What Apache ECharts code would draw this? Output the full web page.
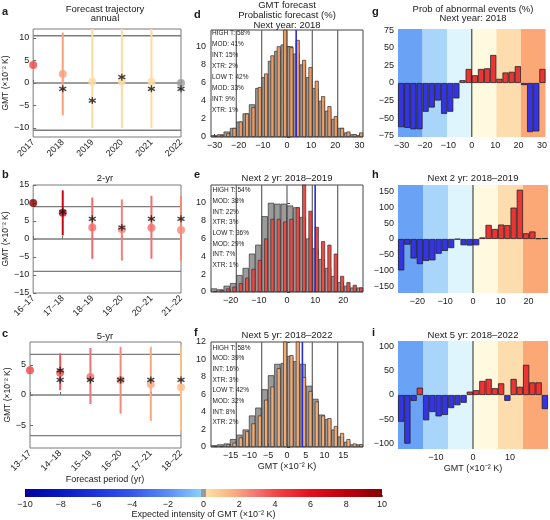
<!DOCTYPE html>
<html><head><meta charset="utf-8">
<script src="https://cdn.jsdelivr.net/npm/echarts@6/dist/echarts.min.js"></script>
<style>html,body{margin:0;padding:0;background:#fff}#c{width:550px;height:520px}</style>
</head><body><div id="c"></div>
<script>
// ================= DATA =================
// Panel a: annual forecast trajectory
const annualPeriods = ['2017','2018','2019','2020','2021','2022'];
const annualIntensity = [4.0, 2.0, 0.3, 0.3, 0.3, 0.0];
const annualLow  = [null, -7.2, -10.0, -10.0, -10.0, null];
const annualHigh = [null, 11.2, 12.0, 12.0, 12.0, null];
const annualObs  = [null, -1.3, -3.9, 1.3, -1.3, -1.3];
const annualObs2 = [null, null, null, null, null, null];
const annualLimit = 10.5;

// Panel b: 2-yr
const twoYrPeriods = ['16–17','17–18','18–19','19–20','20–21','21–22'];
const twoYrIntensity = [10.0, 7.3, 3.2, 2.7, 3.1, 2.5];
const twoYrLow  = [null, 1.0, -5.5, -6.0, -5.5, -6.0];
const twoYrHigh = [null, 13.5, 11.5, 11.0, 12.0, 12.0];
const twoYrObs  = [null, 7.5, 5.6, 3.2, 5.6, 5.6];
const twoYrObs2 = [null, null, null, null, null, null];
const twoYrLimit = 9;

// Panel c: 5-yr
const fiveYrPeriods = ['13–17','14–18','15–19','16–20','17–21','18–22'];
const fiveYrIntensity = [4.1, 3.7, 3.0, 2.5, 1.8, 1.3];
const fiveYrLow  = [null, 0.8, -1.5, -3.1, -4.3, -6.0];
const fiveYrHigh = [null, 6.9, 7.8, 8.0, 8.0, 8.0];
const fiveYrObs  = [null, 2.5, 2.5, 2.5, 2.5, 2.5];
const fiveYrObs2 = [null, 4.1, null, null, null, null];
const fiveYrLimit = 6.75;

// Panels d/e/f: histograms (24 bins over +-3*limit), climatology (grey) vs forecast
const nextYearClim = [0.2,0.3,0.6,1.0,1.7,2.6,3.6,5.4,6.6,8.4,9.5,10.2,10.0,9.2,8.0,6.6,5.4,4.0,2.9,2.0,1.0,0.5,0.3,0.2];
const nextYearFcst = [0.1,0.2,0.4,1.0,1.7,2.6,3.3,5.5,7.0,9.0,10.0,12.5,9.9,10.7,8.5,7.7,6.2,4.5,3.4,2.3,1.0,0.6,0.3,0.5];
const next2Clim = [0.4,0.3,0.7,1.0,1.9,2.7,4.3,5.3,8.5,10.0,9.9,9.9,9.7,9.5,8.4,6.0,4.9,3.7,2.7,1.8,1.1,0.7,0.5,0.5];
const next2Fcst = [0.1,0.2,0.4,0.6,1.0,1.6,2.6,3.6,6.0,8.2,8.2,7.9,8.2,9.5,12.5,9.1,7.3,5.7,5.3,4.3,1.8,1.1,0.8,0.5];
const next5Clim = [0.2,0.3,0.4,0.9,1.4,2.0,3.6,4.5,6.6,8.2,9.5,9.6,10.4,9.8,9.5,7.0,5.5,3.7,3.2,2.0,1.2,0.6,0.3,0.3];
const next5Fcst = [0.1,0.1,0.3,0.5,1.1,1.8,2.7,3.6,5.4,6.9,9.0,12.5,10.5,12.5,8.0,6.4,5.2,3.6,3.3,2.4,1.6,0.9,0.4,0.3];
const nextYearObs = 3.8, next2Obs = 10.0, next5Obs = 4.1;
const nextYearStats = ['HIGH T: 58%','MOD: 41%','INT: 15%','XTR: 2%','LOW T: 42%','MOD: 33%','INT: 9%','XTR: 1%'];
const next2Stats    = ['HIGH T: 54%','MOD: 38%','INT: 22%','XTR: 3%','LOW T: 36%','MOD: 29%','INT: 7%','XTR: 1%'];
const next5Stats    = ['HIGH T: 58%','MOD: 39%','INT: 16%','XTR: 3%','LOW T: 42%','MOD: 32%','INT: 8%','XTR: 2%'];

// Panels g/h/i: probability of abnormal events (%)
const nextYearAbn = [-63,-64,-66,-66,-41,-35,-25,-44,-41,-22,4,20,11,20,21,40,6,15,16,24,-3,-70,-69,20];
const next2Abn    = [-100,-18,-62,-80,-70,-68,-47,-38,-29,-1,-20,-21,-20,5,45,32,46,44,100,157,18,24,2,3];
const next5Abn    = [-55,-100,-12,15,-52,-35,-44,-41,-27,-21,-16,7,10,29,33,14,24,-12,33,17,62,26,26,-29];

// Tick labels
const trajTicksA = [-10,-5,0,5,10];
const trajTicksB = [-15,-10,-5,0,5,10,15];
const trajTicksC = [-5,0,5];
const histXTicksD = [-30,-20,-10,0,10,20,30];
const histXTicksE = [-20,-10,0,10,20];
const histXTicksF = [-15,-10,-5,0,5,10,15];
const histYTicksDE = [0,2,4,6,8,10];
const histYTicksF = [0,2,4,6,8,10,12];
const abnXTicksG = [-30,-20,-10,0,10,20,30];
const abnXTicksH = [-20,-10,0,10,20];
const abnXTicksI = [-10,0,10];
const abnYTicksG = [-75,-50,-25,0,25,50,75];
const abnYTicksH = [-150,-100,-50,0,50,100,150];
const abnYTicksI = [-100,-50,0,50,100];
const cbTicks = [-10,-8,-6,-4,-2,0,2,4,6,8,10];

// ================= STYLE / HELPERS =================
const FONT = '"Liberation Sans", Arial, sans-serif';
const TXT = '#222';
const cmapStops = [[-10,'#00009a'],[-8,'#0a18c0'],[-6,'#1e34dc'],[-4,'#3656e8'],[-2,'#5a8cf2'],[-0.12,'#8ad0fc'],
  [-0.12,'#9a9a9a'],[0.12,'#9a9a9a'],[0.12,'#fde0a6'],[1.3,'#fbbc86'],[2,'#f8a07e'],[3,'#f47272'],[4,'#ef4848'],
  [5,'#ea2c34'],[6,'#e2101c'],[8,'#bc000e'],[10,'#860000']];
function hex2rgb(h){return [1,3,5].map(i=>parseInt(h.substr(i,2),16));}
function cmap(v){
  for(let k=0;k<cmapStops.length-1;k++){
    const [v0,c0]=cmapStops[k],[v1,c1]=cmapStops[k+1];
    if(v1>v0 && v>=v0 && v<=v1){
      const t=(v-v0)/(v1-v0), a=hex2rgb(c0), b=hex2rgb(c1);
      return 'rgb('+a.map((x,i)=>Math.round(x+(b[i]-x)*t)).join(',')+')';
    }
  }
  return v<0?cmapStops[0][1]:cmapStops[cmapStops.length-1][1];
}
const fmt = v => (v<0?'\u2212':'') + Math.abs(Math.round(v*100)/100);
const ASTER = 'path://M5,0L5,10M0.67,2.5L9.33,7.5M0.67,7.5L9.33,2.5';

const grids = [
  {left:30, top:29, width:151, height:108, show:true, borderColor:'#7a7a7a', borderWidth:1},
  {left:30, top:185, width:151, height:108, show:true, borderColor:'#7a7a7a', borderWidth:1},
  {left:30, top:342, width:151, height:106, show:true, borderColor:'#7a7a7a', borderWidth:1},
  {left:211, top:30, width:152, height:107, show:true, borderColor:'#444', borderWidth:1},
  {left:211, top:185, width:152, height:107, show:true, borderColor:'#444', borderWidth:1},
  {left:211, top:342, width:152, height:105, show:true, borderColor:'#444', borderWidth:1},
  {left:398, top:29, width:150, height:108},
  {left:398, top:185, width:150, height:108},
  {left:398, top:341, width:150, height:108},
  {left:25, top:489, width:357, height:8}
];
const xAxes=[], yAxes=[], series=[], graphics=[], titles=[];
const addX=o=>{xAxes.push(o);return xAxes.length-1;};
const addY=o=>{yAxes.push(o);return yAxes.length-1;};
const lbl = (extra)=>Object.assign({fontSize:9,color:TXT,fontFamily:FONT},extra||{});

const hline=(color,w)=>(params,api)=>{const cs=params.coordSys;const y=api.coord([0,api.value(1)])[1];
  return {type:'line',shape:{x1:cs.x,y1:y,x2:cs.x+cs.width,y2:y},style:{stroke:color,lineWidth:w}};};
const vline=(color,w)=>(params,api)=>{const cs=params.coordSys;const x=api.coord([api.value(0),0])[0];
  return {type:'line',shape:{x1:x,y1:cs.y,x2:x,y2:cs.y+cs.height},style:{stroke:color,lineWidth:w}};};

function trajPanel(g,cats,intens,lo,hi,obs,obs2,limit,yMax,yTicks){
  const xi=addX({type:'category',gridIndex:g,data:cats,boundaryGap:false,axisLine:{show:false},splitLine:{show:false},
    axisTick:{show:true,inside:true,length:3,lineStyle:{color:'#666'}},
    axisLabel:lbl({rotate:45,margin:4,interval:0})});
  const yi=addY({type:'value',gridIndex:g,min:-yMax,max:yMax,axisLine:{show:false},splitLine:{show:false},
    axisTick:{show:true,inside:true,length:3,customValues:yTicks,lineStyle:{color:'#666'}},
    axisLabel:lbl({customValues:yTicks,formatter:fmt,margin:4}),
    name:'GMT (\u00d710\u207b\u00b2 K)',nameLocation:'middle',nameGap:16,nameTextStyle:{fontSize:8.5,color:TXT,fontFamily:FONT}});
  series.push({type:'custom',xAxisIndex:xi,yAxisIndex:yi,z:1,silent:true,
    data:[[0,limit],[0,0],[0,-limit]],renderItem:hline('#7c7c7c',1.4)});
  const eb=[];lo.forEach((l,i)=>{if(l!=null)eb.push({value:[i,l,hi[i]],itemStyle:{color:cmap(intens[i])}});});
  series.push({type:'custom',xAxisIndex:xi,yAxisIndex:yi,z:2,silent:true,clip:false,data:eb,
    renderItem:(params,api)=>{const a=api.coord([api.value(0),api.value(1)]),b=api.coord([api.value(0),api.value(2)]);
      return {type:'line',shape:{x1:a[0],y1:a[1],x2:b[0],y2:b[1]},style:{stroke:api.visual('color'),lineWidth:2}};}});
  series.push({type:'scatter',xAxisIndex:xi,yAxisIndex:yi,z:3,silent:true,clip:false,symbol:'circle',symbolSize:8,
    data:intens.map((v,i)=>({value:[i,v],itemStyle:{color:cmap(v)}}))});
  const st=[];obs.forEach((v,i)=>{if(v!=null)st.push([i,v]);});obs2.forEach((v,i)=>{if(v!=null)st.push([i,v]);});
  series.push({type:'scatter',xAxisIndex:xi,yAxisIndex:yi,z:4,silent:true,clip:false,symbol:ASTER,symbolSize:7,
    itemStyle:{color:'#111',borderColor:'#111',borderWidth:1.3},data:st});
}

function histPanel(g,limit,xTicks,yTicks,yMax,clim,fcst,fcstColor,obs,xName){
  const R=3*limit;
  const xc=addX({type:'category',gridIndex:g,data:clim.map((_,k)=>String(k)),show:false,position:'top',boundaryGap:true});
  const xv=addX({type:'value',gridIndex:g,min:-R,max:R,position:'bottom',axisLine:{show:false},splitLine:{show:false},
    axisTick:{show:true,inside:true,length:3,customValues:xTicks,lineStyle:{color:'#444'}},
    axisLabel:lbl({customValues:xTicks,formatter:fmt,margin:4}),
    name:xName||'',nameLocation:'middle',nameGap:15,nameTextStyle:{fontSize:9,color:TXT,fontFamily:FONT}});
  const yi=addY({type:'value',gridIndex:g,min:0,max:yMax,axisLine:{show:false},splitLine:{show:false},
    axisTick:{show:true,inside:true,length:3,customValues:yTicks,lineStyle:{color:'#444'}},
    axisLabel:lbl({customValues:yTicks,formatter:fmt,margin:5})});
  series.push({type:'custom',xAxisIndex:xv,yAxisIndex:yi,z:1,silent:true,
    data:[[-2*limit,0],[-limit,0],[0,0],[limit,0],[2*limit,0]],renderItem:vline('#6e6e6e',1.3)});
  series.push({type:'bar',xAxisIndex:xc,yAxisIndex:yi,z:2,silent:true,data:clim,barWidth:6.3,barGap:'-60%',
    itemStyle:{color:'#9b9b9b',borderColor:'#333',borderWidth:0.7}});
  series.push({type:'bar',xAxisIndex:xc,yAxisIndex:yi,z:2,silent:true,data:fcst,barWidth:4.0,barGap:'-60%',
    itemStyle:{color:fcstColor,borderColor:'#333',borderWidth:0.7}});
  series.push({type:'custom',xAxisIndex:xv,yAxisIndex:yi,z:5,silent:true,data:[[obs,0]],renderItem:vline('#2a2ad6',1.6)});
}

const bandColors=['#6aa2f6','#a9d5fb','#def5fd','#fffadf','#fddcae','#fba776'];
function abnPanel(g,limit,xTicks,yTicks,yMax,vals,xName){
  const R=3*limit;
  const xc=addX({type:'category',gridIndex:g,data:vals.map((_,k)=>String(k)),show:false,position:'top',boundaryGap:true});
  const xv=addX({type:'value',gridIndex:g,min:-R,max:R,position:'bottom',axisLine:{show:false},splitLine:{show:false},
    axisTick:{show:false},axisLabel:lbl({customValues:xTicks,formatter:fmt,margin:4}),
    name:xName||'',nameLocation:'middle',nameGap:15,nameTextStyle:{fontSize:9,color:TXT,fontFamily:FONT}});
  const yi=addY({type:'value',gridIndex:g,min:-yMax,max:yMax,axisLine:{show:false},splitLine:{show:false},
    axisTick:{show:false},axisLabel:lbl({customValues:yTicks,formatter:fmt,margin:4})});
  const edges=[-R,-2*limit,-limit,0,limit,2*limit,R];
  series.push({type:'custom',xAxisIndex:xv,yAxisIndex:yi,z:0,silent:true,
    data:bandColors.map((c,k)=>[edges[k],edges[k+1],k]),
    renderItem:(params,api)=>{const cs=params.coordSys;const x0=api.coord([api.value(0),0])[0],x1=api.coord([api.value(1),0])[0];
      return {type:'rect',shape:{x:x0,y:cs.y,width:x1-x0,height:cs.height},style:{fill:bandColors[api.value(2)]}};}});
  series.push({type:'custom',xAxisIndex:xv,yAxisIndex:yi,z:1,silent:true,data:[[0,0]],renderItem:vline('#4a4a4a',1.2)});
  series.push({type:'bar',xAxisIndex:xc,yAxisIndex:yi,z:2,silent:true,data:vals,barWidth:'100%',barCategoryGap:'0%',
    itemStyle:{color:p=>p.value>=0?'#ec3434':'#3434e4',borderColor:'#222',borderWidth:0.8}});
}

function statsText(lines,x,y0,step){
  lines.forEach((t,k)=>graphics.push({type:'text',x:x,y:y0+k*step-4,z:50,silent:true,
    style:{text:t,fill:'#222',font:'6.5px '+FONT}}));
}
// titles via the title component (text top-anchored)
function title(t,x,yc,size,bold,align,lh){
  const lines=t.split('\n').length;
  const L=lh||size*1.15;
  titles.push({text:t,left:x,top:Math.max(0,yc-L/2),textAlign:align||'center',padding:0,itemGap:0,
    textStyle:{fontSize:size,lineHeight:L,fontWeight:bold?'bold':'normal',color:'#1a1a1a',fontFamily:FONT}});
}

// ================= BUILD =================
trajPanel(0,annualPeriods,annualIntensity,annualLow,annualHigh,annualObs,annualObs2,annualLimit,12,trajTicksA);
trajPanel(1,twoYrPeriods,twoYrIntensity,twoYrLow,twoYrHigh,twoYrObs,twoYrObs2,twoYrLimit,15,trajTicksB);
trajPanel(2,fiveYrPeriods,fiveYrIntensity,fiveYrLow,fiveYrHigh,fiveYrObs,fiveYrObs2,fiveYrLimit,8.8,trajTicksC);

histPanel(3,annualLimit,histXTicksD,histYTicksDE,11.8,nextYearClim,nextYearFcst,'#f19a5e',nextYearObs);
histPanel(4,twoYrLimit,histXTicksE,histYTicksDE,12,next2Clim,next2Fcst,'#ec4a45',next2Obs);
histPanel(5,fiveYrLimit,histXTicksF,histYTicksF,12,next5Clim,next5Fcst,'#f5aa70',next5Obs,'GMT (\u00d710\u207b\u00b2 K)');

abnPanel(6,annualLimit,abnXTicksG,abnYTicksG,77,nextYearAbn);
abnPanel(7,twoYrLimit,abnXTicksH,abnYTicksH,172,next2Abn);
abnPanel(8,fiveYrLimit,abnXTicksI,abnYTicksI,111,next5Abn,'GMT (\u00d710\u207b\u00b2 K)');

// colorbar
const cbx=addX({type:'value',gridIndex:9,min:-10,max:10,axisLine:{show:false},splitLine:{show:false},
  axisTick:{show:true,inside:true,length:2,customValues:cbTicks,lineStyle:{color:'#777'}},
  axisLabel:lbl({customValues:cbTicks,formatter:fmt,margin:3}),
  name:'Expected intensity of GMT (\u00d710\u207b\u00b2 K)',nameLocation:'middle',nameGap:13,nameTextStyle:{fontSize:9,color:TXT,fontFamily:FONT}});
const cby=addY({type:'value',gridIndex:9,min:0,max:1,show:false});
series.push({type:'custom',xAxisIndex:cbx,yAxisIndex:cby,z:1,silent:true,data:[[-10,10]],
  renderItem:(params,api)=>{const cs=params.coordSys;const x0=api.coord([api.value(0),0])[0],x1=api.coord([api.value(1),0])[0];
    const stops=cmapStops.map(s=>({offset:(s[0]+10)/20,color:s[1]}));
    return {type:'rect',shape:{x:x0,y:cs.y,width:x1-x0,height:cs.height},
      style:{fill:{type:'linear',x:x0,y:0,x2:x1,y2:0,global:true,colorStops:stops}}};}});

// titles
title('a',2,12,11,true,'left'); title('Forecast trajectory\nannual',105,9,9.5,false,'center',9.8);
title('b',2,175,11,true,'left'); title('2-yr',105,178,9.5);
title('c',2,334,11,true,'left'); title('5-yr',105,336,9.5);
title('d',194,15,11,true,'left');
title('GMT forecast\nProbalistic forecast (%)\nNext year: 2018',287,5,9.5,false,'center',10);
title('e',194,175,11,true,'left'); title('Next 2 yr: 2018\u20132019',287,178,9.5);
title('f',194,333,11,true,'left'); title('Next 5 yr: 2018\u20132022',287,335,9.5);
title('g',372,12,11,true,'left'); title('Prob of abnormal events (%)\nNext year: 2018',473,9,9.5,false,'center',9.8);
title('h',372,175,11,true,'left'); title('Next 2 yr: 2018\u20132019',473,178,9.5);
title('i',372,333,11,true,'left'); title('Next 5 yr: 2018\u20132022',473,335,9.5);
title('Forecast period (yr)',105,480,9);
statsText(nextYearStats,212,33.3,11.1);
statsText(next2Stats,212.5,191,10.7);
statsText(next5Stats,212.5,348.3,10.7);

const chart=echarts.init(document.getElementById('c'));
chart.setOption({animation:false,backgroundColor:'#fff',textStyle:{fontFamily:FONT},title:titles,
  grid:grids,xAxis:xAxes,yAxis:yAxes,series:series,graphic:{elements:graphics}});
</script></body></html>
